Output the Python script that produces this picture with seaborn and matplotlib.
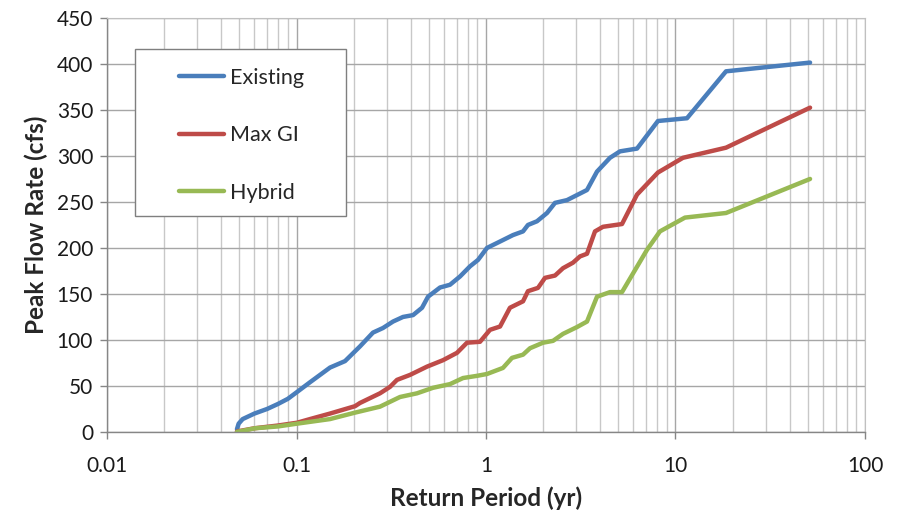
import matplotlib
matplotlib.use("Agg")
import matplotlib.pyplot as plt
from matplotlib.patches import Rectangle
from matplotlib.ticker import LogLocator, FixedLocator, NullFormatter
import pandas as pd
import seaborn as sns

# Return period (yr) and peak flow (cfs) for each scenario
existing_period = [0.0485, 0.0495, 0.0520, 0.0600, 0.0700, 0.0800, 0.0900, 0.1000, 0.1178,
                   0.1503, 0.1803, 0.2163, 0.2533, 0.2861, 0.3231, 0.3648, 0.4120, 0.4597,
                   0.4943, 0.5719, 0.6457, 0.7293, 0.8233, 0.9077, 1.012, 1.186, 1.388,
                   1.568, 1.665, 1.858, 2.099, 2.313, 2.676, 3.412, 3.853, 4.512, 5.095,
                   6.265, 8.08, 11.50, 18.48, 51.3]
existing_flow = [3, 9, 14, 20, 25, 30.5, 36, 43, 54,
                 70, 77, 93, 108, 113, 120, 125, 127, 135,
                 147, 157, 160, 169, 180, 187, 200, 207, 214,
                 218, 225, 229, 238, 249, 252, 263, 283, 298, 305,
                 308, 338, 341, 392, 401.5]

maxgi_period = [0.0485, 0.0600, 0.0800, 0.1006, 0.1178, 0.1503, 0.2036, 0.2163, 0.2758,
                0.3115, 0.3391, 0.3972, 0.4883, 0.5931, 0.7031, 0.7940, 0.9297, 1.050,
                1.186, 1.338, 1.568, 1.665, 1.881, 2.048, 2.313, 2.549, 2.878, 3.133,
                3.412, 3.760, 4.144, 5.221, 6.265, 8.08, 10.95, 18.48, 51.3]
maxgi_flow = [0.5, 4, 7, 10, 14, 20, 28, 31.5, 42,
              49, 56.6, 62, 71, 78, 86, 97, 98, 111,
              114.6, 135, 142, 153, 156.6, 167.5, 170, 178, 184, 190.8,
              193.7, 218, 223, 226, 258, 282, 298, 309, 352.5]

hybrid_period = [0.0485, 0.0604, 0.0799, 0.1006, 0.1503, 0.2036, 0.2758, 0.3518, 0.4325,
                 0.5252, 0.6457, 0.7564, 0.8967, 1.012, 1.229, 1.371, 1.568, 1.707,
                 1.999, 2.257, 2.549, 3.021, 3.412, 3.853, 4.512, 5.221, 7.074, 8.28,
                 11.22, 18.48, 51.3]
hybrid_flow = [0, 4, 6, 9, 14, 21, 27.5, 38, 42,
               48, 52, 58.6, 61, 63, 69.6, 80.5, 84, 91,
               97, 99, 106.6, 114, 120, 147, 152, 152, 198, 218,
               233, 238, 275]

scenarios = ["Existing", "Max GI", "Hybrid"]
colors = ["#4a7ebb", "#be4b48", "#98b954"]

df = pd.concat([
    pd.DataFrame({"period": existing_period, "flow": existing_flow, "scenario": "Existing"}),
    pd.DataFrame({"period": maxgi_period, "flow": maxgi_flow, "scenario": "Max GI"}),
    pd.DataFrame({"period": hybrid_period, "flow": hybrid_flow, "scenario": "Hybrid"}),
], ignore_index=True)

sns.set_style("white")
plt.rcParams["font.family"] = ["Lato", "DejaVu Sans"]

fig = plt.figure(figsize=(9, 5.13), dpi=100)
ax = fig.add_axes([0.1189, 0.158, 0.8422, 0.807])

sns.lineplot(data=df, x="period", y="flow", hue="scenario", hue_order=scenarios,
             palette=colors, estimator=None, sort=False, linewidth=3.2, ax=ax,
             legend=True)

ax.set_xscale("log")
ax.set_xlim(0.01, 100)
ax.set_ylim(0, 450)
ax.yaxis.set_major_locator(FixedLocator(list(range(0, 451, 50))))
ax.xaxis.set_major_locator(FixedLocator([0.01, 0.1, 1, 10, 100]))
ax.xaxis.set_minor_locator(LogLocator(base=10, subs=range(2, 10)))
ax.xaxis.set_minor_formatter(NullFormatter())
ax.set_xticklabels(["0.01", "0.1", "1", "10", "100"])

ax.grid(True, which="major", axis="both", color="#a6a6a6", linewidth=1.0)
ax.grid(True, which="minor", axis="x", color="#c8c8c8", linewidth=1.0)
ax.set_axisbelow(True)

for side in ["top", "right"]:
    ax.spines[side].set_visible(True)
    ax.spines[side].set_color("#c0c0c0")
for side in ["left", "bottom"]:
    ax.spines[side].set_color("#868686")
    ax.spines[side].set_linewidth(1.0)

ax.tick_params(axis="x", which="major", direction="out", length=5, width=1,
               color="#868686", pad=12, labelsize=15, labelcolor="#1a1a1a", bottom=True)
ax.tick_params(axis="x", which="minor", length=0)
ax.tick_params(axis="y", which="major", direction="out", length=5, width=1,
               color="#868686", pad=5, labelsize=15, labelcolor="#1a1a1a", left=True)

ax.set_xlabel("Return Period (yr)", fontsize=17.5, fontweight="bold", labelpad=8)
ax.set_ylabel("Peak Flow Rate (cfs)", fontsize=17.5, fontweight="bold", labelpad=6)

# Legend box drawn as its own framed panel
ax.add_patch(Rectangle((0.0369, 0.5217), 0.2784, 0.4034, transform=ax.transAxes,
                       facecolor="white", edgecolor="#7f7f7f", linewidth=1.0, zorder=4))
handles, labels = ax.get_legend_handles_labels()
leg = ax.legend(handles, labels, loc="upper left", bbox_to_anchor=(0.095, 0.880),
                frameon=False, fontsize=15.5, handlelength=2.1, handletextpad=0.25,
                labelspacing=1.75, borderpad=0, borderaxespad=0)
leg.set_zorder(5)
for line in leg.get_lines():
    line.set_linewidth(3.2)

fig.savefig("out.png", dpi=100)
